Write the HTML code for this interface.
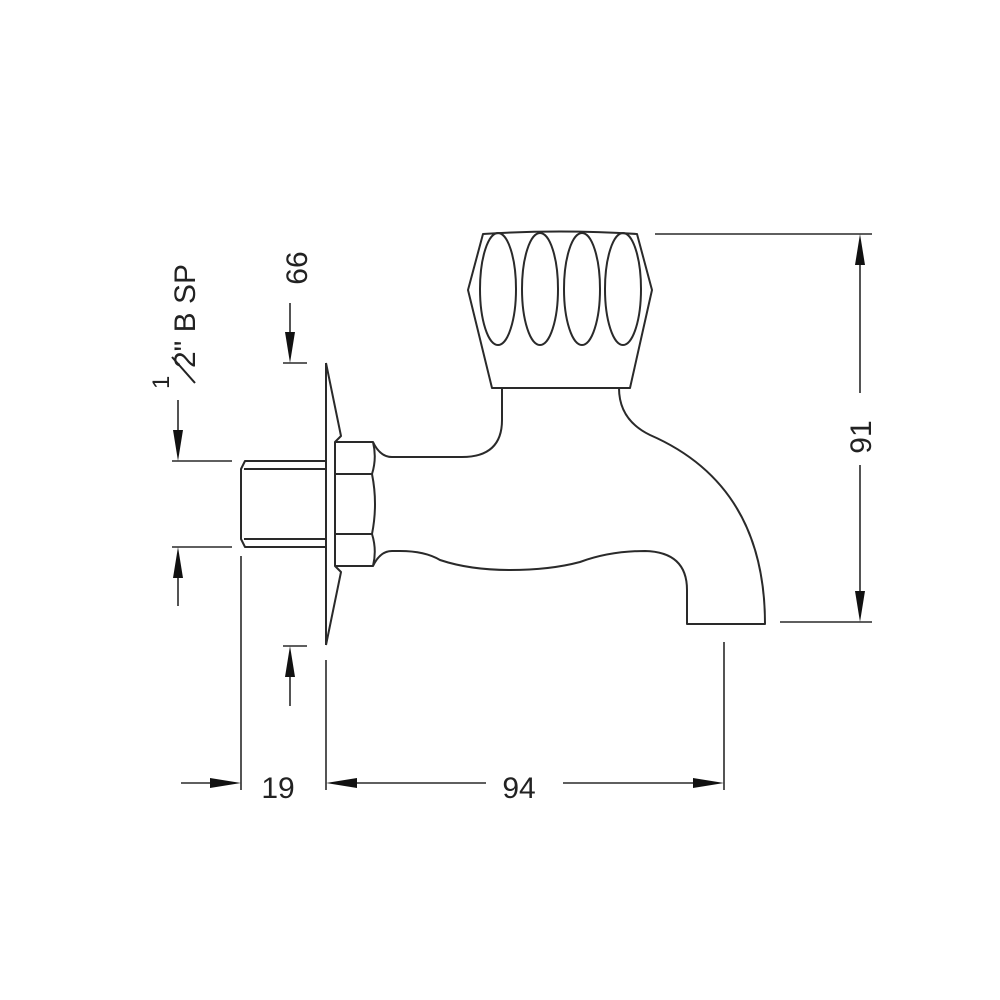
<!DOCTYPE html>
<html><head><meta charset="utf-8"><style>
html,body{margin:0;padding:0;background:#fff;}
svg{display:block;}
text{font-family:"Liberation Sans",Arial,sans-serif;fill:#222;}
</style></head><body>
<svg width="1000" height="1000" viewBox="0 0 1000 1000" xmlns="http://www.w3.org/2000/svg">
<rect x="0" y="0" width="1000" height="1000" fill="#fff"/>
<g fill="none" stroke="#2a2a2a" stroke-width="2" stroke-linejoin="round">
<path d="M483,234 Q560,229 637,234 L652,290 L630,388 L492,388 L468,290 Z"/>
<ellipse cx="498" cy="289" rx="18" ry="56"/>
<ellipse cx="540" cy="289" rx="18" ry="56"/>
<ellipse cx="582" cy="289" rx="18" ry="56"/>
<ellipse cx="623" cy="289" rx="18" ry="56"/>
<path d="M502,388 L502,420 Q502,457 462,457 L392,457 Q380,457 373,442"/>
<path d="M619,388 Q619,420 650,435 Q765,485 765,624 L687,624 L687,590 Q687,552 645,551 Q610,551 580,562 Q550,570 510,570 Q470,570 440,560 Q425,551 400,551 L392,551 Q380,551 373,566"/>
<path d="M335,442 L373,442 Q377,458 372,474 Q378,504 372,534 Q377,550 373,566 L335,566 Z"/>
<line x1="335" y1="474" x2="372" y2="474"/>
<line x1="335" y1="534" x2="372" y2="534"/>
<line x1="326" y1="363" x2="326" y2="645"/>
<path d="M326,363 L341,436 L335,442"/>
<path d="M326,645 L341,572 L335,566"/>
<path d="M326,461 L245,461 L241,469 L241,539 L245,547 L326,547"/>
<line x1="244" y1="469" x2="326" y2="469"/>
<line x1="244" y1="539" x2="326" y2="539"/>
</g>
<g fill="none" stroke="#2a2a2a" stroke-width="1.6">
<line x1="172" y1="461" x2="232" y2="461"/>
<line x1="172" y1="547" x2="232" y2="547"/>
<line x1="178" y1="400" x2="178" y2="445"/>
<line x1="178" y1="563" x2="178" y2="606"/>
<line x1="283" y1="363" x2="307" y2="363"/>
<line x1="283" y1="646" x2="307" y2="646"/>
<line x1="290" y1="303" x2="290" y2="348"/>
<line x1="290" y1="662" x2="290" y2="706"/>
<line x1="241" y1="556" x2="241" y2="790"/>
<line x1="326" y1="660" x2="326" y2="790"/>
<line x1="724" y1="642" x2="724" y2="790"/>
<line x1="181" y1="783" x2="225" y2="783"/>
<line x1="340" y1="783" x2="486" y2="783"/>
<line x1="563" y1="783" x2="708" y2="783"/>
<line x1="655" y1="234" x2="872" y2="234"/>
<line x1="780" y1="622" x2="872" y2="622"/>
<line x1="860" y1="250" x2="860" y2="393"/>
<line x1="860" y1="465" x2="860" y2="606"/>
</g>
<g fill="#111">
<polygon points="178,461 173,430 183,430"/>
<polygon points="178,547 173,578 183,578"/>
<polygon points="290,363 285,332 295,332"/>
<polygon points="290,646 285,677 295,677"/>
<polygon points="241,783 210,778 210,788"/>
<polygon points="326,783 357,778 357,788"/>
<polygon points="724,783 693,778 693,788"/>
<polygon points="860,234 855,265 865,265"/>
<polygon points="860,622 855,591 865,591"/>
</g>
<text x="278" y="798" font-size="30" text-anchor="middle">19</text>
<text x="519" y="798" font-size="30" text-anchor="middle">94</text>
<text transform="translate(871,437) rotate(-90)" font-size="30" text-anchor="middle">91</text>
<text transform="translate(307,268) rotate(-90)" font-size="30" text-anchor="middle">66</text>
<g transform="translate(196,325) rotate(-90)">
<text x="-64" y="-27" font-size="24">1</text>
<line x1="-32" y1="-24" x2="-58" y2="-1" stroke="#222" stroke-width="2"/>
<text x="-43" y="-1" font-size="30">2" B SP</text>
</g>
</svg>
</body></html>
